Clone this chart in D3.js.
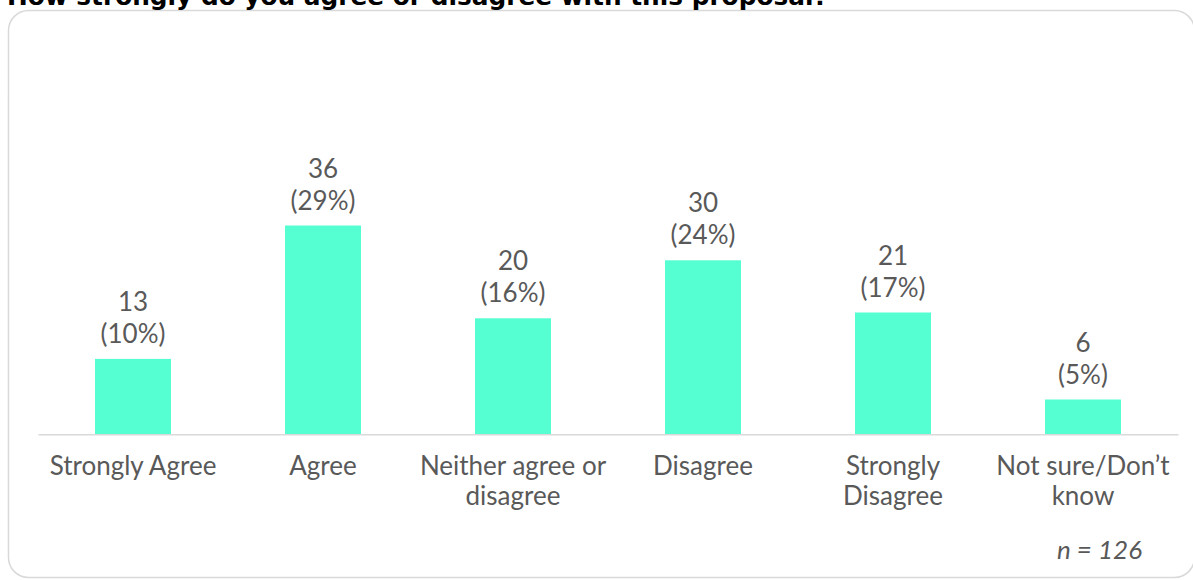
<!DOCTYPE html>
<html>
<head>
<meta charset="utf-8">
<script src="https://cdn.jsdelivr.net/npm/d3@7"></script>
<style>
  html, body { margin: 0; padding: 0; background: #ffffff; }
  svg { display: block; }
</style>
</head>
<body>
<svg id="chart" width="1193" height="580"></svg>
<script>
// Survey responses
const categories = [
  ["Strongly Agree"],
  ["Agree"],
  ["Neither agree or", "disagree"],
  ["Disagree"],
  ["Strongly", "Disagree"],
  ["Not sure/Don\u2019t", "know"]
];
const counts = [13, 36, 20, 30, 21, 6];
const percents = ["10%", "29%", "16%", "24%", "17%", "5%"];
const sampleSize = 126;
const titleText = "How strongly do you agree or disagree with this proposal?";

const svg = d3.select("#chart");

const bodyFont = "Lato, 'Open Sans', sans-serif";
const bodySize = 26;
const textGrey = "#595959";
const barColor = "#55ffd1";

// Panel frame
svg.append("rect")
  .attr("x", 8.5).attr("y", 10.5)
  .attr("width", 1186).attr("height", 567)
  .attr("rx", 20).attr("ry", 20)
  .attr("fill", "none")
  .attr("stroke", "#d9d9d9")
  .attr("stroke-width", 1.5);

// Title
svg.append("text")
  .attr("x", 7).attr("y", 4.5)
  .attr("font-family", "'DejaVu Sans', sans-serif")
  .attr("font-weight", "bold")
  .attr("font-size", 24.8)
  .attr("fill", "#000000")
  .text(titleText);

const idx = d3.range(categories.length);
const x = d3.scaleBand()
  .domain(idx)
  .range([38, 1178])
  .paddingInner(0.6)
  .paddingOuter(0.3);

const baseY = 434.3;
const y = d3.scaleLinear().domain([0, 40]).range([baseY, baseY - 232]);
const cx = i => x(i) + x.bandwidth() / 2;

// Bars
svg.append("g").selectAll("rect")
  .data(idx)
  .join("rect")
  .attr("x", i => x(i))
  .attr("y", i => y(counts[i]))
  .attr("width", x.bandwidth())
  .attr("height", i => y(0) - y(counts[i]))
  .attr("fill", barColor);

// Baseline axis
const axis = svg.append("g")
  .attr("transform", `translate(0,${baseY})`)
  .call(d3.axisBottom(x).tickSize(0).tickFormat(() => ""));
axis.select(".domain").attr("stroke", "#d9d9d9").attr("stroke-width", 1.5);

// Category labels
const catG = svg.append("g")
  .attr("font-family", bodyFont)
  .attr("font-size", bodySize)
  .attr("fill", textGrey)
  .attr("text-anchor", "middle");
catG.selectAll("text")
  .data(idx)
  .join("text")
  .attr("x", cx)
  .attr("y", 475)
  .each(function(i) {
    const t = d3.select(this);
    categories[i].forEach((line, k) => {
      t.append("tspan")
        .attr("x", cx(i))
        .attr("dy", k === 0 ? 0 : 30)
        .text(line);
    });
  });

// Value labels
const valG = svg.append("g")
  .attr("font-family", bodyFont)
  .attr("font-size", bodySize)
  .attr("fill", textGrey)
  .attr("text-anchor", "middle");
valG.selectAll("text.count")
  .data(idx)
  .join("text")
  .attr("class", "count")
  .attr("x", cx)
  .attr("y", i => y(counts[i]) - 48)
  .text(i => counts[i]);
valG.selectAll("text.pct")
  .data(idx)
  .join("text")
  .attr("class", "pct")
  .attr("x", cx)
  .attr("y", i => y(counts[i]) - 16)
  .text(i => `(${percents[i]})`);

// Sample size note
svg.append("text")
  .attr("x", 1142).attr("y", 559)
  .attr("text-anchor", "end")
  .attr("font-family", bodyFont)
  .attr("font-size", bodySize)
  .attr("font-style", "italic")
  .attr("fill", textGrey)
  .text(`n = ${sampleSize}`);
</script>
</body>
</html>
